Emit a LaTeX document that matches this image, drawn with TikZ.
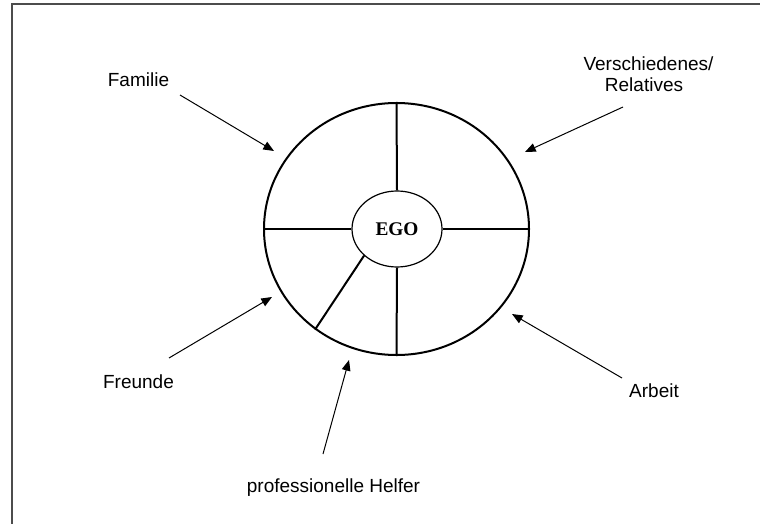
\documentclass[tikz,border=0pt]{standalone}
\usepackage{fontspec}
\setmainfont{Liberation Sans}
\newfontfamily\egofont{Liberation Serif}
\usetikzlibrary{arrows.meta,shapes.geometric}
\begin{document}
\begin{tikzpicture}[x=0.75pt,y=-0.75pt,
  lbl/.style={inner sep=0pt,anchor=base,font=\fontsize{14.25}{16.5}\selectfont},
  ring/.style={draw,ellipse,inner sep=0pt,line width=1.5pt},
  spoke/.style={line width=1.5pt},
  pointer/.style={line width=0.75pt,-{Triangle[length=8pt,width=6.5pt]}},
  frame/.style={draw=black!70,line width=1.5pt}]
\useasboundingbox (0,0) rectangle (760,524);
\draw[frame] (11.5,524) -- (11.5,4.5) -- (760,4.5);
% rings
\node[ring,minimum width=198.75pt,minimum height=189pt] (outer) at (396.5,229) {};
\node[draw,ellipse,inner sep=0pt,line width=0.9pt,fill=white,minimum width=67.5pt,minimum height=57pt,
      font=\egofont\bfseries\fontsize{14.5}{16}\selectfont] (ego) at (397,229) {EGO};
% spokes
\draw[spoke] (ego.north) -- (outer.north);
\draw[spoke] (ego.south) -- (outer.south);
\draw[spoke] (ego.west) -- (outer.west);
\draw[spoke] (ego.east) -- (outer.east);
\draw[spoke] (ego.219.3) -- (outer.231.2);
% labels
\node[lbl] (familie) at (138.5,87) {Familie};
\node[lbl] (versch) at (648.5,71) {Verschiedenes/};
\node[lbl] (relat) at (644,92) {Relatives};
\node[lbl] (freunde) at (138.5,388) {Freunde};
\node[lbl] (arbeit) at (654,397) {Arbeit};
\node[lbl] (helfer) at (333.5,492) {professionelle Helfer};
% arrow ends
\coordinate (fa1) at (180,95);   \coordinate (fa2) at (274,151);
\coordinate (ve1) at (623,107);  \coordinate (ve2) at (525,152);
\coordinate (fr1) at (169,358);  \coordinate (fr2) at (272,297);
\coordinate (ar1) at (622,378);  \coordinate (ar2) at (512,314);
\coordinate (he1) at (323,454);  \coordinate (he2) at (349,360);
\draw[pointer] (fa1) -- (fa2);
\draw[pointer] (ve1) -- (ve2);
\draw[pointer] (fr1) -- (fr2);
\draw[pointer] (ar1) -- (ar2);
\draw[pointer] (he1) -- (he2);
\end{tikzpicture}
\end{document}
